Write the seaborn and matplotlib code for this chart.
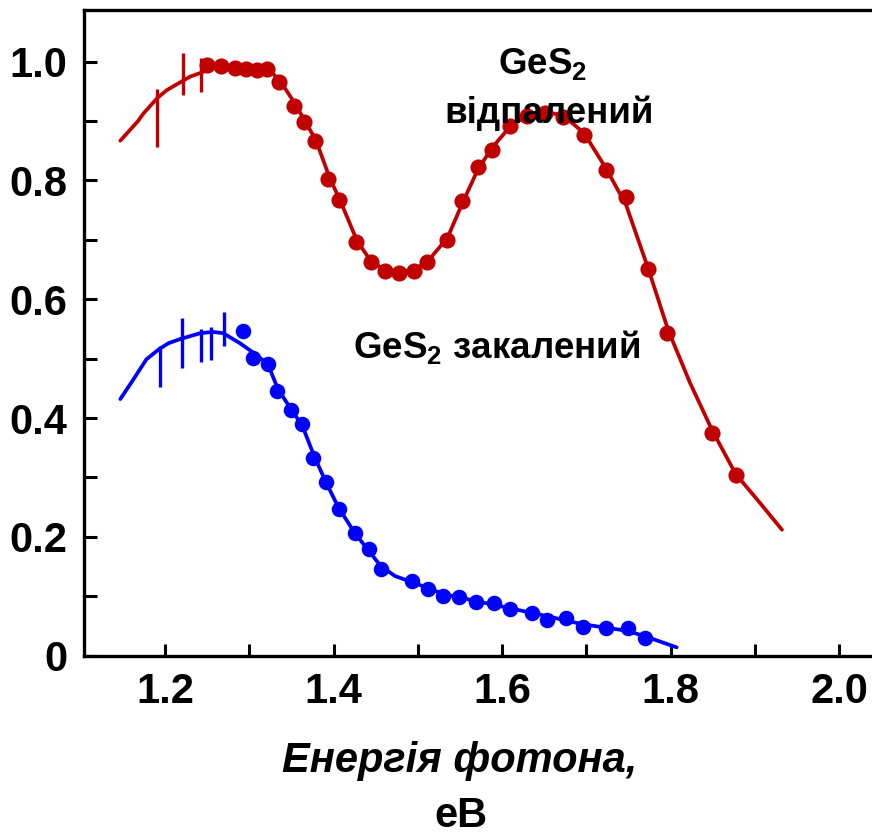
import numpy as np
import pandas as pd
import matplotlib
matplotlib.use("Agg")
import matplotlib.pyplot as plt
import seaborn as sns
from matplotlib.ticker import MultipleLocator, FixedLocator, FixedFormatter

# Annealed GeS2: measured points
ann_x = [1.250, 1.266, 1.283, 1.296, 1.309, 1.321, 1.335, 1.353, 1.365, 1.378,
         1.394, 1.407, 1.427, 1.444, 1.461, 1.478, 1.495, 1.511, 1.534, 1.552,
         1.571, 1.588, 1.609, 1.629, 1.651, 1.672, 1.697, 1.723, 1.747, 1.773,
         1.796, 1.849, 1.877]
ann_y = [0.994, 0.993, 0.989, 0.987, 0.986, 0.987, 0.966, 0.925, 0.899, 0.867,
         0.802, 0.767, 0.696, 0.662, 0.648, 0.645, 0.648, 0.662, 0.700, 0.766,
         0.823, 0.851, 0.891, 0.909, 0.914, 0.907, 0.877, 0.818, 0.773, 0.651,
         0.543, 0.375, 0.304]

# Annealed GeS2: fitted curve
ann_fit_x = [1.147, 1.168, 1.174, 1.191, 1.202, 1.219, 1.230, 1.242, 1.259, 1.283,
             1.307, 1.322, 1.336, 1.354, 1.379, 1.395, 1.410, 1.428, 1.444, 1.461,
             1.478, 1.494, 1.511, 1.535, 1.552, 1.571, 1.588, 1.609, 1.630, 1.651,
             1.672, 1.697, 1.723, 1.747, 1.773, 1.797, 1.823, 1.849, 1.877, 1.906,
             1.932]
ann_fit_y = [0.867, 0.900, 0.912, 0.939, 0.952, 0.966, 0.975, 0.981, 0.991, 0.994,
             0.993, 0.988, 0.969, 0.930, 0.868, 0.806, 0.759, 0.698, 0.665, 0.649,
             0.646, 0.649, 0.663, 0.703, 0.759, 0.818, 0.855, 0.890, 0.910, 0.915,
             0.910, 0.880, 0.821, 0.759, 0.653, 0.548, 0.459, 0.380, 0.306, 0.257,
             0.212]

# Annealed GeS2: error bars
ann_err_x = [1.191, 1.221, 1.243]
ann_err_y = [0.905, 0.979, 0.978]
ann_err = [0.049, 0.035, 0.029]

# Quenched GeS2: measured points
q_x = [1.293, 1.304, 1.322, 1.333, 1.349, 1.363, 1.376, 1.391, 1.407, 1.425,
       1.442, 1.456, 1.493, 1.512, 1.530, 1.549, 1.569, 1.590, 1.609, 1.635,
       1.653, 1.676, 1.696, 1.723, 1.749, 1.770]
q_y = [0.546, 0.501, 0.491, 0.446, 0.413, 0.390, 0.333, 0.292, 0.247, 0.206,
       0.180, 0.146, 0.125, 0.112, 0.101, 0.099, 0.091, 0.089, 0.079, 0.072,
       0.060, 0.064, 0.049, 0.047, 0.046, 0.029]

# Quenched GeS2: fitted curve
q_fit_x = [1.147, 1.162, 1.178, 1.192, 1.204, 1.218, 1.242, 1.257, 1.269, 1.289,
           1.304, 1.322, 1.334, 1.350, 1.363, 1.377, 1.391, 1.406, 1.425, 1.442,
           1.456, 1.473, 1.493, 1.530, 1.569, 1.609, 1.652, 1.695, 1.748, 1.771,
           1.807]
q_fit_y = [0.432, 0.464, 0.499, 0.515, 0.526, 0.533, 0.543, 0.545, 0.543, 0.526,
           0.511, 0.491, 0.449, 0.414, 0.387, 0.336, 0.292, 0.249, 0.207, 0.176,
           0.151, 0.134, 0.124, 0.104, 0.092, 0.080, 0.067, 0.053, 0.042, 0.032,
           0.014]

# Quenched GeS2: error bars
q_err_x = [1.194, 1.220, 1.243, 1.255, 1.270]
q_err_y = [0.487, 0.526, 0.522, 0.525, 0.550]
q_err = [0.035, 0.042, 0.028, 0.028, 0.028]

x_ticks = [1.2, 1.4, 1.6, 1.8, 2.0]
x_tick_labels = ["1.2", "1.4", "1.6", "1.8", "2.0"]
y_ticks = [0.0, 0.2, 0.4, 0.6, 0.8, 1.0]
y_tick_labels = ["0", "0.2", "0.4", "0.6", "0.8", "1.0"]

RED = "#C00000"
BLUE = "#0000FF"

sns.set_theme(style="white")
plt.rcParams["font.family"] = ["Liberation Sans", "DejaVu Sans"]
plt.rcParams["font.weight"] = "bold"
plt.rcParams["text.color"] = "black"
plt.rcParams["xtick.color"] = "black"
plt.rcParams["ytick.color"] = "black"
plt.rcParams["axes.labelcolor"] = "black"
plt.rcParams["mathtext.fontset"] = "custom"
plt.rcParams["mathtext.rm"] = "Liberation Sans:bold"
plt.rcParams["mathtext.bf"] = "Liberation Sans:bold"

fig = plt.figure(figsize=(8.72, 8.34), dpi=100)
ax = fig.add_axes([0.0963, 0.2138, 0.9037, 0.7742])

ann_fit = pd.DataFrame({"E": ann_fit_x, "A": ann_fit_y})
q_fit = pd.DataFrame({"E": q_fit_x, "A": q_fit_y})
ann_pts = pd.DataFrame({"E": ann_x, "A": ann_y})
q_pts = pd.DataFrame({"E": q_x, "A": q_y})

sns.lineplot(data=ann_fit, x="E", y="A", color=RED, lw=2.7, sort=False, ax=ax)
sns.lineplot(data=q_fit, x="E", y="A", color=BLUE, lw=2.7, sort=False, ax=ax)
sns.scatterplot(data=ann_pts, x="E", y="A", color=RED, s=135, linewidth=0, ax=ax, zorder=3)
sns.scatterplot(data=q_pts, x="E", y="A", color=BLUE, s=125, linewidth=0, ax=ax, zorder=3)

ax.errorbar(ann_err_x, ann_err_y, yerr=ann_err, fmt="none", ecolor=RED, elinewidth=2.4, capsize=0)
ax.errorbar(q_err_x, q_err_y, yerr=q_err, fmt="none", ecolor=BLUE, elinewidth=2.4, capsize=0)

ax.set_xlim(1.1039, 2.0388)
ax.set_ylim(0.0, 1.087)

ax.xaxis.set_major_locator(FixedLocator(x_ticks))
ax.xaxis.set_major_formatter(FixedFormatter(x_tick_labels))
ax.xaxis.set_minor_locator(MultipleLocator(0.1))
ax.yaxis.set_major_locator(FixedLocator(y_ticks))
ax.yaxis.set_major_formatter(FixedFormatter(y_tick_labels))
ax.yaxis.set_minor_locator(MultipleLocator(0.1))

ax.tick_params(which="both", direction="in", length=9, width=2.2, color="black",
               bottom=True, left=True, top=False, right=False)
ax.tick_params(axis="x", which="major", labelsize=30, pad=12, labelcolor="black")
ax.tick_params(axis="y", which="major", labelsize=30, pad=12, labelcolor="black")
for lab in ax.get_xticklabels() + ax.get_yticklabels():
    lab.set_fontweight("bold")

for side in ["left", "bottom", "top"]:
    ax.spines[side].set_visible(True)
    ax.spines[side].set_color("black")
    ax.spines[side].set_linewidth(2.4)
ax.spines["right"].set_visible(False)

ax.set_xlabel("")
ax.set_ylabel("")

ax.text(1.648, 0.995, r"GeS$_\mathbf{2}$", ha="center", va="center",
        fontsize=26.5, fontweight="bold", color="black")
ax.text(1.656, 0.913, "відпалений", ha="center", va="center",
        fontsize=26.5, fontweight="bold", color="black")
ax.text(1.594, 0.518, r"GeS$_\mathbf{2}$ закалений", ha="center", va="center",
        fontsize=26.5, fontweight="bold", color="black")

fig.text(0.527, 0.088, "Енергія фотона,", ha="center", va="center",
         fontsize=30, fontweight="bold", fontstyle="italic", color="black")
fig.text(0.529, 0.022, "еВ", ha="center", va="center", fontsize=30,
         fontweight="bold", color="black")

fig.savefig("out.png", dpi=100)
